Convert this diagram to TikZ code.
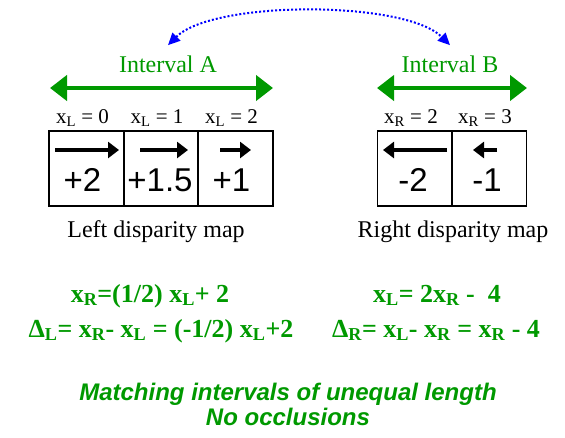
\documentclass[tikz,border=0pt]{standalone}
\usepackage{fontspec}
\setmainfont{Liberation Serif}
\setsansfont{Liberation Sans}
\definecolor{matchgreen}{HTML}{009900}
\definecolor{linkblue}{HTML}{0000FF}
\usetikzlibrary{arrows.meta, positioning, calc}

\tikzset{
  cell/.style={draw, line width=1.2pt, minimum width=75pt, minimum height=75pt, inner sep=0pt},
  disp/.style={font=\sffamily\fontsize{33}{35}\selectfont},
  coordlabel/.style={anchor=base, font=\fontsize{21}{23}\selectfont},
  maplabel/.style={anchor=base, font=\fontsize{24}{28}\selectfont},
  intlabel/.style={anchor=base, inner sep=0pt, text=matchgreen, font=\fontsize{24}{28}\selectfont},
  equation/.style={anchor=base, text=matchgreen, font=\bfseries\fontsize{26}{30}\selectfont},
  caption/.style={anchor=base, text=matchgreen, font=\sffamily\bfseries\itshape\fontsize{24}{28}\selectfont},
  intarrow/.style={{Triangle[length=17pt,width=25pt]}-{Triangle[length=17pt,width=25pt]}, matchgreen, line width=4.5pt},
  disparrow/.style={-{Triangle[length=11pt,width=16pt]}, line width=3.5pt},
  linkarrow/.style={{Triangle[length=12pt,width=11pt]}-{Triangle[length=12pt,width=11pt]}, linkblue, line width=2pt, dotted}
}

\begin{document}
\begin{tikzpicture}[x=1pt, y=-1pt]
  \useasboundingbox (0,0) rectangle (565,437);

  % left disparity map
  \foreach \i/\xc/\val/\tail/\tip/\dx in {
    0/86.5/+2/55/119/-4,
    1/161/+1.5/140/188/-1,
    2/235.5/+1/220/251/-4} {
    \node[cell] (L\i) at (\xc, 168.5) {};
    \node[disp] (Lv\i) at (\xc+\dx, 180) {\val};
    \node[coordlabel] (Lx\i) at (\xc-4, 123) {x\textsubscript{L} = \i};
    \coordinate (Lt\i) at (\tail, 150);
    \coordinate (Lh\i) at (\tip, 150);
    \draw[disparrow] (Lt\i) -- (Lh\i);
  }
  \node[maplabel] (lmap) at (156, 237) {Left disparity map};

  % right disparity map
  \foreach \i/\xc/\val/\tail/\tip/\xr in {
    0/415/-2/447/383/2,
    1/489/-1/497/473/3} {
    \node[cell] (R\i) at (\xc, 168.5) {};
    \node[disp] (Rv\i) at (\xc-2, 180) {\val};
    \node[coordlabel] (Rx\i) at (\xc-4, 123) {x\textsubscript{R} = \xr};
    \coordinate (Rt\i) at (\tail, 150);
    \coordinate (Rh\i) at (\tip, 150);
    \draw[disparrow] (Rt\i) -- (Rh\i);
  }
  \node[maplabel] (rmap) at (453, 237) {Right disparity map};

  % intervals
  \coordinate (Astart) at (50, 88);
  \coordinate (Aend) at (273, 88);
  \coordinate (Bstart) at (377, 88);
  \coordinate (Bend) at (527, 88);
  \draw[intarrow] (Astart) -- (Aend);
  \draw[intarrow] (Bstart) -- (Bend);
  \node[intlabel] (intA) at (168, 72) {Interval A};
  \node[intlabel] (intB) at (450, 72) {Interval B};
  \coordinate (matchA) at ([yshift=10pt]intA.north);
  \coordinate (matchB) at ([yshift=10pt]intB.north);
  \draw[linkarrow] (matchA) .. controls +(45,-45) and +(-45,-45) .. (matchB);

  % equations
  \node[equation] (eqL1) at (150, 302) {x\textsubscript{R}=(1/2) x\textsubscript{L}+ 2};
  \node[equation] (eqL2) at (161, 337) {Δ\textsubscript{L}= x\textsubscript{R}- x\textsubscript{L} = (-1/2) x\textsubscript{L}+2};
  \node[equation] (eqR1) at (437, 302) {x\textsubscript{L}= 2x\textsubscript{R} -\ \ 4};
  \node[equation] (eqR2) at (436, 337) {Δ\textsubscript{R}= x\textsubscript{L}- x\textsubscript{R} = x\textsubscript{R} - 4};

  % caption
  \node[caption] (cap1) at (288, 400) {Matching intervals of unequal length};
  \node[caption] (cap2) at (288, 425) {No occlusions};
\end{tikzpicture}
\end{document}
